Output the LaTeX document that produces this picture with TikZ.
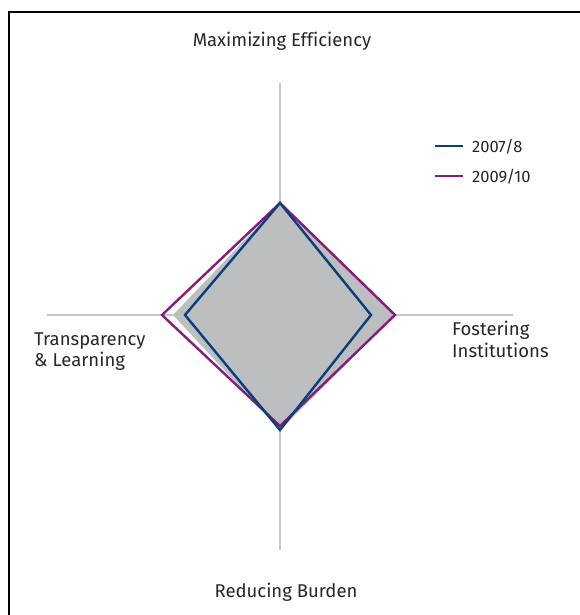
\documentclass[tikz,border=0pt]{standalone}
\usepackage{fontspec}
\setmainfont[Ligatures={NoCommon}]{Fira Sans}
\definecolor{axisgray}{HTML}{C6C6C6}
\definecolor{fillgray}{HTML}{BCBEC0}
\definecolor{navy}{HTML}{0B3F7A}
\definecolor{plum}{HTML}{881A7C}
\begin{document}
\begin{tikzpicture}[x=1pt,y=-1pt,
  lbl/.style={font=\fontsize{18.5}{22}\selectfont, text=black!85, inner sep=0pt, align=left},
  leg/.style={font=\fontsize{16.5}{20}\selectfont, text=black!85, inner sep=0pt},
  series/.style={line width=2.4pt, line join=miter},
  axis/.style={draw=axisgray, line width=1.2pt}]
\useasboundingbox (0,0) rectangle (580,615);
% frame
\draw[line width=2pt] (9,615) -- (9,12) -- (581,12);
% axes
\coordinate (c) at (280,315);
\coordinate (at) at (280,83);
\coordinate (ab) at (280,550);
\coordinate (al) at (47,315);
\coordinate (ar) at (513,315);
\draw[axis] (at) -- (ab);
\draw[axis] (al) -- (ar);
% gray area
\fill[fillgray] (280,203) -- (395,315) -- (280,430) -- (173,315) -- cycle;
% series
\draw[series, plum] (280,203) -- (395,315) -- (280,426) -- (162,315) -- cycle;
\draw[series, navy] (280,203) -- (371,315) -- (280,430) -- (185,315) -- cycle;
% labels
\node[lbl, anchor=base] (top) at (282,47) {Maximizing Efficiency};
\node[lbl, anchor=base] (bot) at (286,597) {Reducing Burden};
\node[lbl, anchor=base west] (r1) at (452,335) {Fostering};
\node[lbl, anchor=base west] (r2) at (452,357) {Institutions};
\node[lbl, anchor=base west] (l1) at (34,345) {Transparency};
\node[lbl, anchor=base west] (l2) at (34,366) {\& Learning};
% legend
\coordinate (la1) at (435,146); \coordinate (lb1) at (463,146);
\coordinate (la2) at (435,176); \coordinate (lb2) at (463,176);
\draw[series, navy] (la1) -- (lb1);
\draw[series, plum] (la2) -- (lb2);
\node[leg, anchor=base west] (g1) at (472,152) {2007/8};
\node[leg, anchor=base west] (g2) at (472,182) {2009/10};
\end{tikzpicture}
\end{document}
